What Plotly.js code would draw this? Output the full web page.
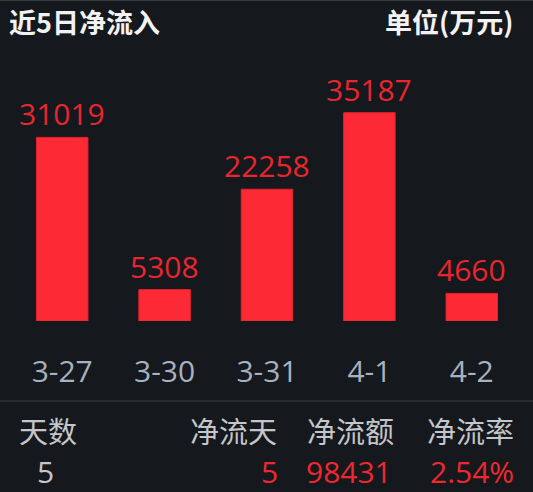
<!DOCTYPE html>
<html>
<head>
<meta charset="utf-8">
<script src="https://cdn.plot.ly/plotly-3.0.1.min.js"></script>
<style>
  html, body { margin: 0; padding: 0; background: #15181d; }
  #grafico { width: 533px; height: 492px; }
</style>
</head>
<body>
<div id="grafico"></div>
<script>
// datos del grafico
const fechas = ["3-27", "3-30", "3-31", "4-1", "4-2"];
const flujos = [31019, 5308, 22258, 35187, 4660];

const cabeceras = ["天数", "净流天", "净流额", "净流率"];
const resumen = ["5", "5", "98431", "2.54%"];

const W = 533, H = 492;
const M = { l: 11, r: 10, t: 60, b: 171 };

// pasar pixeles a coordenadas "paper"
function px(x) { return (x - M.l) / (W - M.l - M.r); }
function py(y) { return (H - M.b - y) / (H - M.t - M.b); }

const CJK = "Noto Sans CJK SC";
const NUM = "Open Sans";
const rojo = "#ef2731";

const anotaciones = [];

// etiquetas de valor encima de cada barra
fechas.forEach(function (f, i) {
  anotaciones.push({
    x: f, y: flujos[i], xref: "x", yref: "y",
    text: String(flujos[i]), showarrow: false,
    yanchor: "bottom", yshift: 2, borderpad: 0,
    font: { family: NUM, size: 30, color: "#e8262f" }
  });
});

// titulo y unidad
anotaciones.push({
  x: px(7), y: py(21), xref: "paper", yref: "paper",
  xanchor: "left", yanchor: "middle", showarrow: false,
  text: "<b>近5日净流入</b>",
  font: { family: CJK, size: 27, color: "#f2f2f2" }
});
anotaciones.push({
  x: px(515), y: py(21), xref: "paper", yref: "paper",
  xanchor: "right", yanchor: "middle", showarrow: false,
  text: "<b>单位(万元)</b>",
  font: { family: CJK, size: 27, color: "#f2f2f2" }
});

// tabla de abajo
const colX = [17, 279, 396, 516];
const colAnchor = ["left", "right", "right", "right"];
cabeceras.forEach(function (c, i) {
  anotaciones.push({
    x: px(colX[i]), y: py(430), xref: "paper", yref: "paper",
    xanchor: colAnchor[i], yanchor: "middle", showarrow: false,
    text: c, font: { family: CJK, size: 29, color: "#c4c6c9" }
  });
});
const valX = [36, 279, 393, 515];
resumen.forEach(function (v, i) {
  anotaciones.push({
    x: px(valX[i]), y: py(471), xref: "paper", yref: "paper",
    xanchor: colAnchor[i], yanchor: "middle", showarrow: false, borderpad: 0,
    text: v, font: { family: NUM, size: 30, color: i === 0 ? "#c4c6c9" : rojo }
  });
});

const lineas = [
  { type: "line", xref: "paper", yref: "paper", x0: px(0), x1: px(W), y0: py(0.5), y1: py(0.5),
    line: { color: "#3a3d42", width: 1 } },
  { type: "line", xref: "paper", yref: "paper", x0: px(0), x1: px(W), y0: py(401), y1: py(401),
    line: { color: "#303338", width: 1.5 } }
];

Plotly.newPlot(
  "grafico",
  [{
    x: fechas,
    y: flujos,
    type: "bar",
    marker: { color: "#fd2a35", line: { color: "#e0242e", width: 1 } },
    hoverinfo: "x+y"
  }],
  {
    width: W,
    height: H,
    margin: M,
    paper_bgcolor: "#15181d",
    plot_bgcolor: "#15181d",
    bargap: 0.497,
    showlegend: false,
    xaxis: {
      showgrid: false, zeroline: false, showline: false, ticks: "",
      ticklabelstandoff: 30,
      tickfont: { family: NUM, size: 30, color: "#a8b2bf" }
    },
    yaxis: {
      range: [0, 44090], visible: false, showgrid: false, zeroline: false, fixedrange: true
    },
    annotations: anotaciones,
    shapes: lineas
  },
  { displayModeBar: false }
);
</script>
</body>
</html>
